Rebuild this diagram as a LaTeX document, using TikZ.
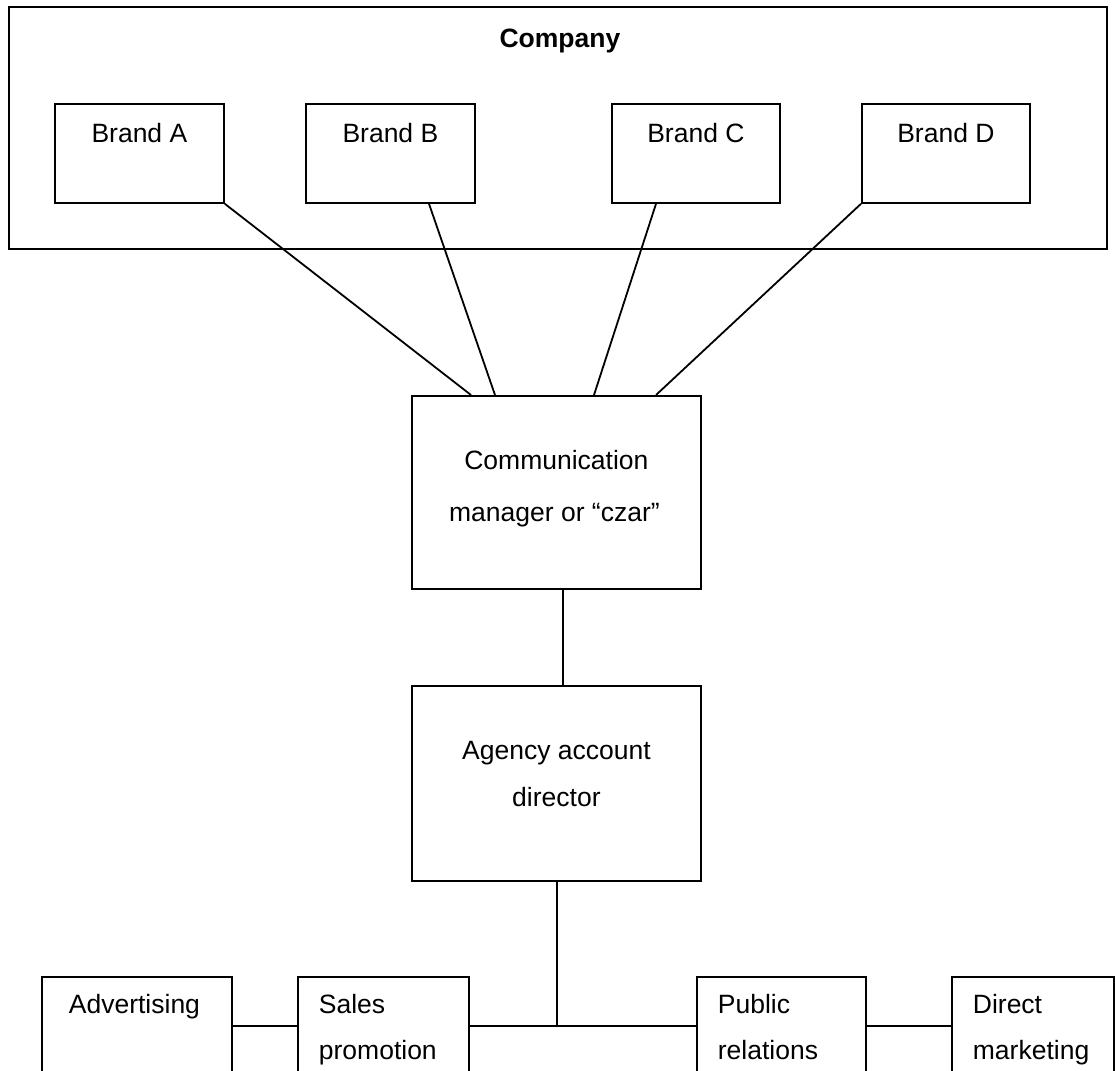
\documentclass[tikz,border=0pt]{standalone}
\usepackage{fontspec}
\setmainfont{Liberation Sans}
\usetikzlibrary{calc}
\begin{document}
\begin{tikzpicture}[x=1pt,y=-1pt,line width=1.8pt,
  box/.style={draw,line width=1.8pt,inner sep=0pt,anchor=north west},
  lbl/.style={font=\fontsize{26.5}{30}\selectfont,inner sep=0pt,anchor=base},
  lblw/.style={lbl,anchor=base west},
  lblb/.style={lbl,font=\bfseries\fontsize{26.5}{30}\selectfont}]
\useasboundingbox (0,0) rectangle (1115,1070);
\fill[white] (0,0) rectangle (1115,1070);
\clip (0,0) rectangle (1115,1070);
% company and brands
\node[box,minimum width=1098,minimum height=242] (company) at (8,6) {};
\node[lblb] (tcompany) at ($(company.north)+(2,42)$) {Company};
\node[box,minimum width=169,minimum height=99] (brandA) at (54,103) {};
\node[box,minimum width=169,minimum height=99] (brandB) at (305,103) {};
\node[box,minimum width=168,minimum height=99] (brandC) at (611,103) {};
\node[box,minimum width=168,minimum height=99] (brandD) at (861,103) {};
\node[lbl] (tA) at ($(brandA.north)+(0,39)$) {Brand A};
\node[lbl] (tB) at ($(brandB.north)+(0,39)$) {Brand B};
\node[lbl] (tC) at ($(brandC.north)+(0,39)$) {Brand C};
\node[lbl] (tD) at ($(brandD.north)+(0,39)$) {Brand D};
% communication manager
\node[box,minimum width=289,minimum height=193] (comm) at (411,395) {};
\node[lbl] (tcomm1) at ($(comm.north)+(0,74)$) {Communication};
\node[lbl] (tcomm2) at ($(comm.north)+(-2,126)$) {manager or “czar”};
% agency
\node[box,minimum width=289,minimum height=195] (agency) at (411,685) {};
\node[lbl] (tag1) at ($(agency.north)+(0,74)$) {Agency account};
\node[lbl] (tag2) at ($(agency.north)+(0,121)$) {director};
% bottom boxes
\node[box,minimum width=190,minimum height=120] (adv) at (41,976) {};
\node[box,minimum width=171,minimum height=120] (sales) at (297,976) {};
\node[box,minimum width=169,minimum height=120] (public) at (696,976) {};
\node[box,minimum width=162,minimum height=120] (direct) at (951,976) {};
\node[lblw] (tadv) at ($(adv.north west)+(27,37)$) {Advertising};
\node[lblw] (tsales1) at ($(sales.north west)+(21,37)$) {Sales};
\node[lblw] (tsales2) at ($(sales.north west)+(21,83)$) {promotion};
\node[lblw] (tpub1) at ($(public.north west)+(21,37)$) {Public};
\node[lblw] (tpub2) at ($(public.north west)+(21,83)$) {relations};
\node[lblw] (tdir1) at ($(direct.north west)+(21,37)$) {Direct};
\node[lblw] (tdir2) at ($(direct.north west)+(21,83)$) {marketing};
% connectors
\draw (brandA.south east) -- ($(comm.north west)+(60,0)$);
\draw ($(brandB.south west)+(124,0)$) -- ($(comm.north west)+(84,0)$);
\draw ($(brandC.south west)+(45,0)$) -- ($(comm.north west)+(183,0)$);
\draw (brandD.south west) -- ($(comm.north west)+(245,0)$);
\draw ($(comm.south west)+(152,0)$) -- ($(agency.north west)+(152,0)$);
\coordinate (j) at (557,1026);
\draw ($(agency.south west)+(146,0)$) -- (j);
\draw (adv.east |- j) -- (sales.west |- j);
\draw (sales.east |- j) -- (public.west |- j);
\draw (public.east |- j) -- (direct.west |- j);
\end{tikzpicture}
\end{document}
